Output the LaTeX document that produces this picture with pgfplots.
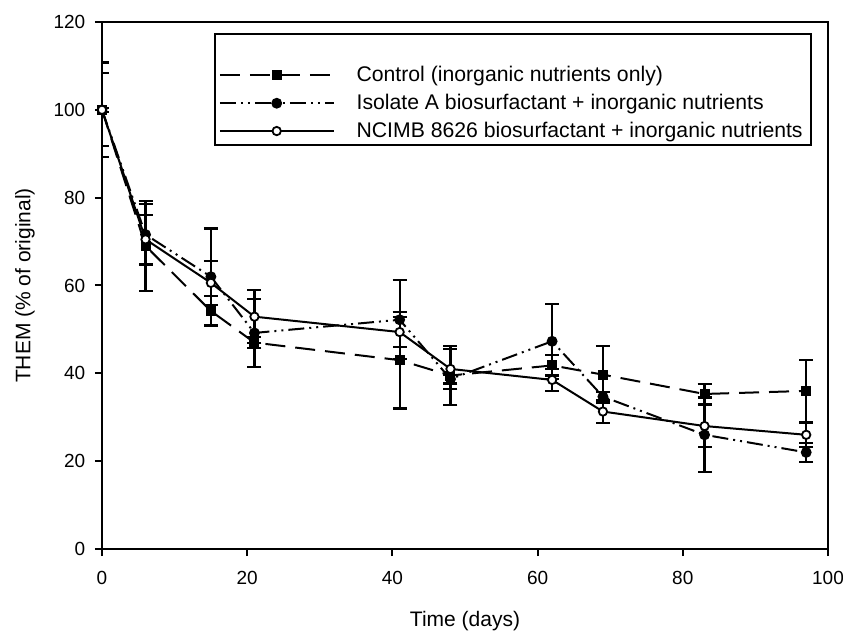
\documentclass[border=0pt]{standalone}
\usepackage{pgfplots}
\pgfplotsset{compat=1.18}
\usepackage{fontspec}
\setmainfont{Liberation Sans}
\begin{document}
\fontsize{9.5}{11}\selectfont
\begin{tikzpicture}
\useasboundingbox (-51pt,-42pt) rectangle (370.5pt,274.5pt);
\begin{axis}[
  scale only axis, width=363pt, height=263.5pt,
  xmin=0, xmax=100, ymin=0, ymax=120,
  xtick={0,20,...,100}, ytick={0,20,...,120},
  tick align=outside, tick pos=left, major tick length=3.5pt,
  /pgf/number format/assume math mode=true,
  tick label style={font=\fontsize{9.5}{11}\selectfont},
  xticklabel style={yshift=-4.5pt},
  yticklabel style={xshift=-1.5pt},
  label style={font=\fontsize{10.5}{12}\selectfont},
  xlabel={Time (days)}, ylabel={THEM (\% of original)},
  xlabel style={at={(axis description cs:0.5,-0.1366)}, anchor=center},
  ylabel style={at={(axis description cs:-0.106,0.5)}, anchor=center},
  axis line style={line width=1pt},
  every tick/.style={line width=1pt, black},
  legend cell align=left,
  legend style={at={(rel axis cs:0.154,0.979)}, anchor=north west,
    font=\fontsize{10.6}{12}\selectfont, draw=black, line width=1pt,
    inner xsep=2pt, inner ysep=0.5pt, row sep=0.8pt,
    /tikz/every even column/.append style={column sep=4pt},
    /tikz/every odd column/.append style={column sep=9pt}},
  legend image code/.code={\draw[#1,mark repeat=2,mark phase=2] plot coordinates {(0cm,0cm)(1cm,0cm)(2cm,0cm)};},
  every axis plot/.append style={line width=1pt, black},
  error bars/error bar style={solid, line width=1.1pt, black},
  error bars/error mark options={rotate=90, mark size=3.5pt, line width=1.1pt, solid},
]
\addlegendimage{empty legend}
\addlegendentry{\vphantom{Cy}}
\addplot[dash pattern=on 10pt off 5pt, mark=square*, mark size=2pt, mark options={solid, fill=black},
  error bars/.cd, y dir=both, y explicit] table[x=x, y=y, y error=e] {
x y e
0 100 10.8
6 69 10.3
15 54.2 3.5
21 47 1.3
41 43 11
48 39.5 6.7
62 41.8 2.3
69 39.7 6.5
83 35.3 2.3
97 36 7
};
\addlegendentry{Control (inorganic nutrients only)}
\addplot[dash pattern=on 8pt off 2.5pt on 1pt off 2.5pt on 1pt off 2.5pt, mark=*, mark size=2.2pt, mark options={solid, fill=black},
  error bars/.cd, y dir=both, y explicit] table[x=x, y=y, y error=e] {
x y e
0 100 0.5
6 71.6 6.9
15 62 11
21 49.2 7.7
41 52.2 9
48 38.7 1
62 47.3 8.5
69 34.7 1
83 26 8.5
97 22 2.2
};
\addlegendentry{Isolate A biosurfactant + inorganic nutrients}
\addplot[solid, mark=*, mark size=2.1pt, mark options={solid, fill=white, line width=0.9pt},
  error bars/.cd, y dir=both, y explicit] table[x=x, y=y, y error=e] {
x y e
0 100 8.3
6 70.5 5.6
15 60.6 5
21 52.9 6
41 49.4 3.4
48 41 4.5
62 38.5 2.5
69 31.3 2.7
83 28 4.8
97 26 2.7
};
\addlegendentry{NCIMB 8626 biosurfactant + inorganic nutrients}
\end{axis}
\end{tikzpicture}
\end{document}
